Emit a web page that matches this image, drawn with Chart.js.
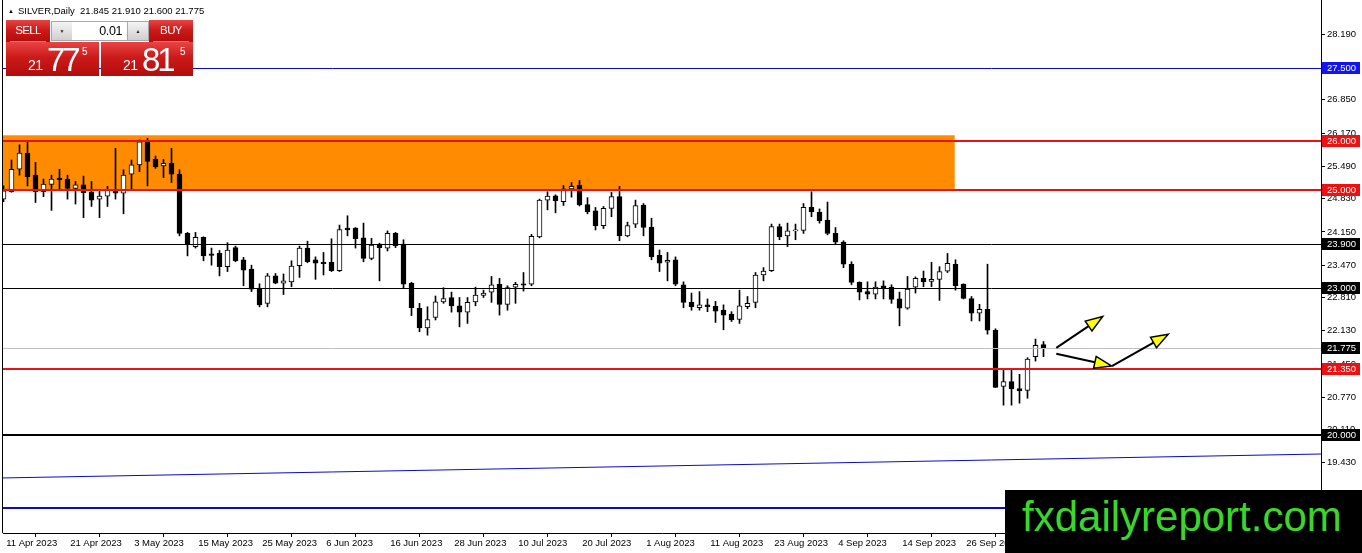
<!DOCTYPE html>
<html>
<head>
<meta charset="utf-8">
<title>SILVER,Daily</title>
<script src="https://cdn.jsdelivr.net/npm/chart.js@4.4.1/dist/chart.umd.min.js"></script>
<style>
    body { margin: 0; background: #fff; overflow: hidden; }
    #wrap { position: relative; width: 1362px; height: 553px; font-family: "Liberation Sans", Arial, sans-serif; }
    #chart { position: absolute; left: 0; top: 0; }
    #header { position: absolute; left: 8px; top: 5px; font-size: 9.5px; color: #000; white-space: pre; }
    #header .tri { font-size: 6px; vertical-align: 1px; margin-right: 4px; }
    .red { position: absolute; color: #fff; background: linear-gradient(#e84444, #cc1a1a 45%, #b30c0c); }
    .head { top: 20px; width: 44px; height: 22px; font-size: 11.5px; letter-spacing: -0.6px; text-align: center; line-height: 21px; }
    .head::after { content: ''; position: absolute; left: 4px; right: 4px; bottom: 0; border-bottom: 1px solid rgba(255, 190, 190, 0.6); }
    .btn { position: absolute; top: 21px; width: 20px; height: 18px; background: linear-gradient(#f4f4f4, #cfcfcf); border: 1px solid #a8a8a8; font-size: 5px; line-height: 18px; text-align: center; color: #222; }
    #lot { position: absolute; left: 72px; top: 21px; width: 50px; height: 18px; background: #fff; border-top: 1px solid #a8a8a8; border-bottom: 1px solid #a8a8a8; font-size: 12.5px; letter-spacing: -0.4px; line-height: 18px; text-align: right; padding-right: 6px; color: #000; }
    .price { top: 42px; height: 34px; }
    .price span { position: absolute; line-height: 1; }
    .big { font-size: 33px; letter-spacing: -3px; top: 1px; }
    .small { font-size: 14px; top: 16px; letter-spacing: -0.5px; }
    .pip { font-size: 10px; top: 5px; }
    #stamp { position: absolute; left: 1005px; top: 490px; width: 357px; height: 63px; background: #000; }
    #stamp span { position: absolute; left: 17px; top: 6px; font-size: 42px; line-height: 1; color: #3cd62a; }
</style>
</head>
<body>
<div id="wrap">
    <canvas id="chart" width="1362" height="553"></canvas>
    <div id="header"></div>
    <div class="red head" style="left:6px">SELL</div>
    <div class="btn" style="left:51px">&#9660;</div>
    <div id="lot">0.01</div>
    <div class="btn" style="left:127px">&#9650;</div>
    <div class="red head" style="left:149px">BUY</div>
    <div class="red price" id="sellBox" style="left:6px; width:93px"></div>
    <div class="red price" id="buyBox" style="left:101px; width:92px"></div>
    <div id="stamp"><span>fxdailyreport.com</span></div>
</div>
<script>
// daily bars, 11 Apr 2023 .. 10 Oct 2023
let opens = [
    24.82, 24.97, 25.43, 25.76, 25.31, 24.97, 25.12, 25.25, 25.23, 25.04,
    25.11, 24.97, 24.82, 24.88, 24.99, 24.94, 25.33, 25.52, 25.99, 25.64,
    25.50, 25.55, 25.33, 24.12, 23.85, 24.04, 23.70, 23.71, 23.44, 23.83,
    23.58, 23.39, 23.00, 22.69, 23.25, 23.10, 23.13, 23.46, 23.82, 23.58,
    23.53, 23.53, 23.36, 24.23, 24.23, 24.03, 23.61, 23.90, 23.82, 24.12,
    23.90, 23.10, 22.59, 22.19, 22.40, 22.72, 22.81, 22.64, 22.51, 22.72,
    22.85, 22.92, 23.08, 22.67, 23.02, 23.09, 23.08, 24.05, 24.80, 24.89,
    24.77, 25.03, 25.10, 24.71, 24.58, 24.28, 24.63, 24.87, 24.07, 24.31,
    24.70, 24.25, 23.67, 23.53, 23.58, 23.07, 22.71, 22.60, 22.66, 22.63,
    22.55, 22.47, 22.36, 22.62, 22.71, 23.27, 23.36, 24.26, 24.07, 24.17,
    24.18, 24.65, 24.55, 24.39, 24.12, 23.94, 23.49, 23.12, 22.93, 22.88,
    23.05, 23.02, 22.78, 22.59, 23.02, 23.20, 23.14, 23.18, 23.35, 23.49,
    23.08, 22.79, 22.49, 22.57, 22.14, 20.99, 21.09, 20.95, 20.91, 21.60,
    21.845
];
let highs = [
    25.09, 25.62, 25.93, 26.00, 25.57, 25.23, 25.31, 25.43, 25.31, 25.18,
    25.29, 25.18, 25.01, 25.08, 25.86, 25.42, 25.62, 26.03, 26.06, 25.70,
    25.63, 25.86, 25.42, 24.14, 24.14, 24.05, 23.82, 23.77, 23.93, 23.86,
    23.63, 23.47, 23.09, 23.30, 23.30, 23.29, 23.56, 23.86, 23.96, 23.64,
    23.73, 24.01, 24.29, 24.48, 24.24, 24.33, 24.02, 23.92, 24.17, 24.14,
    23.99, 23.12, 22.69, 22.62, 22.84, 23.01, 22.92, 22.81, 22.81, 23.02,
    22.96, 23.24, 23.20, 23.05, 23.12, 23.32, 24.10, 24.82, 24.97, 24.91,
    25.10, 25.16, 25.20, 24.85, 24.65, 24.67, 24.96, 25.08, 24.35, 24.80,
    24.73, 24.43, 23.78, 23.73, 23.64, 23.13, 22.90, 22.93, 22.78, 22.73,
    22.66, 22.52, 22.96, 22.83, 23.32, 23.42, 24.31, 24.31, 24.33, 24.31,
    24.73, 24.97, 24.62, 24.76, 24.24, 23.97, 23.54, 23.13, 23.13, 23.13,
    23.15, 23.07, 22.92, 23.24, 23.23, 23.35, 23.53, 23.44, 23.71, 23.58,
    23.09, 22.83, 22.67, 23.49, 22.17, 21.33, 21.33, 21.24, 21.58, 21.96,
    21.910
];
let lows = [
    24.77, 24.96, 25.31, 25.09, 24.75, 24.87, 24.59, 25.01, 24.82, 24.72,
    24.44, 24.67, 24.44, 24.67, 24.82, 24.52, 25.01, 25.38, 25.09, 25.45,
    25.26, 25.16, 24.07, 23.66, 23.82, 23.56, 23.47, 23.25, 23.34, 23.54,
    23.05, 22.93, 22.62, 22.62, 23.09, 22.87, 23.03, 23.22, 23.52, 23.18,
    23.27, 23.34, 23.34, 24.07, 23.82, 23.54, 23.58, 23.15, 23.76, 23.83,
    23.01, 22.44, 22.11, 22.04, 22.35, 22.69, 22.51, 22.21, 22.28, 22.64,
    22.81, 22.71, 22.45, 22.55, 22.69, 22.94, 23.05, 24.03, 24.60, 24.54,
    24.69, 24.86, 24.68, 24.52, 24.19, 24.22, 24.46, 23.97, 24.05, 24.24,
    24.07, 23.58, 23.34, 23.15, 23.05, 22.60, 22.55, 22.55, 22.52, 22.30,
    22.15, 22.32, 22.28, 22.58, 22.60, 23.15, 23.34, 23.99, 23.85, 23.99,
    24.12, 24.46, 24.33, 24.09, 23.90, 23.42, 23.07, 22.76, 22.78, 22.78,
    22.78, 22.69, 22.23, 22.57, 22.90, 23.03, 23.03, 22.75, 23.32, 22.96,
    22.78, 22.33, 22.33, 22.06, 20.97, 20.61, 20.61, 20.65, 20.75, 21.51,
    21.600
];
let closes = [
    24.99, 25.43, 25.76, 25.28, 24.97, 25.13, 25.23, 25.22, 25.04, 25.11,
    24.95, 24.80, 24.88, 25.01, 24.94, 25.31, 25.52, 25.99, 25.59, 25.48,
    25.55, 25.33, 24.12, 23.90, 24.04, 23.66, 23.67, 23.44, 23.78, 23.56,
    23.37, 22.98, 22.66, 23.25, 23.10, 23.15, 23.45, 23.82, 23.54, 23.51,
    23.50, 23.36, 24.20, 24.19, 24.01, 23.61, 23.88, 23.83, 24.12, 23.87,
    23.08, 22.60, 22.19, 22.36, 22.72, 22.79, 22.64, 22.51, 22.71, 22.86,
    22.90, 23.07, 22.67, 23.01, 23.08, 23.06, 24.06, 24.80, 24.88, 24.79,
    25.03, 25.08, 24.70, 24.56, 24.28, 24.63, 24.87, 24.07, 24.28, 24.69,
    24.24, 23.64, 23.51, 23.57, 23.08, 22.71, 22.62, 22.66, 22.62, 22.53,
    22.45, 22.35, 22.64, 22.69, 23.27, 23.35, 24.26, 24.05, 24.17, 24.18,
    24.65, 24.56, 24.38, 24.12, 23.94, 23.49, 23.12, 22.92, 22.88, 23.02,
    23.00, 22.77, 22.59, 22.98, 23.20, 23.13, 23.18, 23.34, 23.51, 23.05,
    22.79, 22.49, 22.57, 22.14, 20.97, 21.09, 20.94, 20.90, 21.55, 21.83,
    21.775
];

// date labels every 8 bars
let dateTickBars = [0, 8, 16, 24, 32, 40, 48, 56, 64, 72, 80, 88, 96, 104, 112, 120];
let dateLabels = ['11 Apr 2023', '21 Apr 2023', '3 May 2023', '15 May 2023', '25 May 2023', '6 Jun 2023',
    '16 Jun 2023', '28 Jun 2023', '10 Jul 2023', '20 Jul 2023', '1 Aug 2023', '11 Aug 2023',
    '23 Aug 2023', '4 Sep 2023', '14 Sep 2023', '26 Sep 2023'];
let priceTicks = [28.19, 26.85, 26.17, 25.49, 24.83, 24.15, 23.47, 22.81, 22.13, 21.45, 20.77, 20.11, 19.43];

// drawn objects
let levelPrices = [27.5, 26.0, 25.0, 23.9, 23.0, 21.775, 21.35, 20.0, 18.5];
let zonePrices = [25.0, 26.125];
let zoneBars = [0, 118.9];
let trendBars = [0, 164];
let trendPrices = [19.122, 19.609];
let arrowFrom = [[131.6, 21.78], [131.6, 21.66], [138.6, 21.41]];
let arrowTo = [[137.4, 22.42], [138.5, 21.41], [145.6, 22.06]];
let bidPrice = 21.775;
let askPrice = 21.815;

let levelStyles = [
    { color: '#0a0acc', width: 1, box: '#1414ee' },
    { color: '#e41414', width: 2, box: '#ee1111' },
    { color: '#e41414', width: 2, box: '#ee1111' },
    { color: '#000000', width: 1, box: '#000000' },
    { color: '#000000', width: 1, box: '#000000' },
    { color: '#c0c0c0', width: 1, box: '#000000' },
    { color: '#e41414', width: 2, box: '#ee1111' },
    { color: '#000000', width: 2, box: '#000000' },
    { color: '#0a0acc', width: 2, box: null }
];

const font = '"Liberation Sans", Arial, sans-serif';


function renderPanel() {
    let last = opens.length - 1;
    document.getElementById('header').innerHTML = '<span class="tri">&#9650;</span>SILVER,Daily  ' +
        [opens[last], highs[last], lows[last], closes[last]].map(v => v.toFixed(3)).join(' ');
    fillPriceBox('sellBox', bidPrice, [22, 41, 76]);
    fillPriceBox('buyBox', askPrice, [22, 41, 79]);
}


function fillPriceBox(id, price, lefts) {
    let txt = price.toFixed(3);
    let parts = [txt.slice(0, 2), txt.slice(3, 5), txt.slice(5)];
    document.getElementById(id).innerHTML = `
        <span class="small" style="left:${lefts[0]}px">${parts[0]}</span>
        <span class="big" style="left:${lefts[1]}px">${parts[1]}</span>
        <span class="pip" style="left:${lefts[2]}px">${parts[2]}</span>`;
}


function drawArrow(ctx, x0, y0, x1, y1) {
    let ang = Math.atan2(y1 - y0, x1 - x0);
    let len = 17, half = 6;
    let bx = x1 - Math.cos(ang) * len, by = y1 - Math.sin(ang) * len;

    ctx.strokeStyle = '#000';
    ctx.lineWidth = 2;
    ctx.beginPath();
    ctx.moveTo(x0, y0);
    ctx.lineTo(bx, by);
    ctx.stroke();

    ctx.beginPath();
    ctx.moveTo(x1, y1);
    ctx.lineTo(bx + Math.sin(ang) * half, by - Math.cos(ang) * half);
    ctx.lineTo(bx - Math.sin(ang) * half, by + Math.cos(ang) * half);
    ctx.closePath();
    ctx.fillStyle = '#ffff00';
    ctx.fill();
    ctx.lineWidth = 1.5;
    ctx.stroke();
}


const drawingsPlugin = {
    id: 'drawings',
    beforeDatasetsDraw(chart) {
        let { ctx, chartArea: a, scales: { x, y } } = chart;
        let yTop = y.getPixelForValue(zonePrices[1]);
        let yBot = y.getPixelForValue(zonePrices[0]);
        let x0 = Math.max(a.left, x.getPixelForValue(zoneBars[0]) - 4);
        ctx.save();
        ctx.fillStyle = '#ff8c00';
        ctx.fillRect(x0, yTop, x.getPixelForValue(zoneBars[1]) - x0, yBot - yTop);
        ctx.restore();
    },
    afterDatasetsDraw(chart) {
        let { ctx, chartArea: a, scales: { x, y } } = chart;
        ctx.save();
        ctx.beginPath();
        ctx.rect(a.left, a.top, a.right - a.left, a.bottom - a.top);
        ctx.clip();

        // trend line, extended over the whole chart
        let px0 = x.getPixelForValue(trendBars[0]), py0 = y.getPixelForValue(trendPrices[0]);
        let px1 = x.getPixelForValue(trendBars[1]), py1 = y.getPixelForValue(trendPrices[1]);
        let k = (py1 - py0) / (px1 - px0);
        ctx.strokeStyle = '#0a0acc';
        ctx.lineWidth = 1;
        ctx.beginPath();
        ctx.moveTo(a.left, py0 + k * (a.left - px0));
        ctx.lineTo(a.right, py0 + k * (a.right - px0));
        ctx.stroke();

        levelPrices.forEach((p, i) => {
            let st = levelStyles[i];
            let py = Math.round(y.getPixelForValue(p)) + (st.width % 2 ? 0.5 : 0);
            ctx.strokeStyle = st.color;
            ctx.lineWidth = st.width;
            ctx.beginPath();
            ctx.moveTo(a.left, py);
            ctx.lineTo(a.right, py);
            ctx.stroke();
        });

        arrowFrom.forEach((from, i) => {
            let to = arrowTo[i];
            drawArrow(ctx, x.getPixelForValue(from[0]), y.getPixelForValue(from[1]),
                x.getPixelForValue(to[0]), y.getPixelForValue(to[1]));
        });
        ctx.restore();
    },
    afterDraw(chart) {
        let { ctx, chartArea: a, scales: { y } } = chart;
        ctx.save();
        ctx.fillStyle = '#000';
        ctx.fillRect(2, a.top, 1, a.bottom - a.top);

        ctx.font = '9.5px ' + font;
        ctx.textBaseline = 'middle';
        ctx.textAlign = 'left';
        levelPrices.forEach((p, i) => {
            let st = levelStyles[i];
            if (!st.box) return;
            let py = Math.round(y.getPixelForValue(p));
            ctx.fillStyle = st.box;
            ctx.fillRect(a.right + 1, py - 6, 38, 12);
            ctx.fillStyle = '#fff';
            ctx.fillText(p.toFixed(3), a.right + 6, py + 0.5);
        });
        ctx.restore();
    }
};


function createChart() {
    let bars = opens.map((v, i) => i);
    let bodyData = bars.map(i => ({ x: i, y: [opens[i], closes[i]] }));
    let wickData = bars.map(i => ({ x: i, y: [lows[i], highs[i]] }));
    let bodyColors = bars.map(i => closes[i] >= opens[i] ? '#ffffff' : '#000000');

    Chart.defaults.font.family = font;
    Chart.defaults.color = '#000';

    new Chart('chart', {
        type: 'bar',
        data: {
            datasets: [{
                data: bodyData,
                backgroundColor: bodyColors,
                borderColor: '#000',
                borderWidth: 1,
                borderSkipped: false,
                barThickness: 5,
                minBarLength: 1,
                grouped: false,
                order: 0
            }, {
                data: wickData,
                backgroundColor: '#000',
                borderWidth: 0,
                barThickness: 1,
                grouped: false,
                order: 1
            }]
        },
        options: {
            responsive: false,
            animation: false,
            devicePixelRatio: 1,
            layout: { padding: { left: 3, top: 0, right: 0, bottom: 0 } },
            plugins: { legend: { display: false }, tooltip: { enabled: false } },
            scales: {
                x: {
                    type: 'linear',
                    position: 'bottom',
                    min: -0.0625,
                    max: 164.6875,
                    offset: false,
                    grid: { drawOnChartArea: false, drawTicks: true, tickLength: 4, color: '#000' },
                    border: { display: true, color: '#000', width: 1 },
                    afterBuildTicks: (s) => { s.ticks = dateTickBars.map(v => ({ value: v })); },
                    afterFit: (s) => { s.height = 20; s.paddingLeft = 0; s.paddingRight = 0; },
                    ticks: {
                        autoSkip: false,
                        maxRotation: 0,
                        align: 'start',
                        padding: 1,
                        font: { size: 9.5 },
                        callback: (v, i) => ' ' + dateLabels[i]
                    }
                },
                y: {
                    type: 'linear',
                    position: 'right',
                    min: 17.9966,
                    max: 28.8897,
                    grid: { drawOnChartArea: false, drawTicks: true, tickLength: 4, color: '#000' },
                    border: { display: true, color: '#000', width: 1 },
                    afterBuildTicks: (s) => { s.ticks = priceTicks.map(v => ({ value: v })); },
                    afterFit: (s) => { s.width = 41; s.paddingTop = 0; s.paddingBottom = 0; },
                    ticks: {
                        crossAlign: 'near',
                        padding: 2,
                        font: { size: 9.5 },
                        callback: (v) => v.toFixed(3)
                    }
                }
            }
        },
        plugins: [drawingsPlugin]
    });
}


renderPanel();
createChart();
</script>
</body>
</html>
